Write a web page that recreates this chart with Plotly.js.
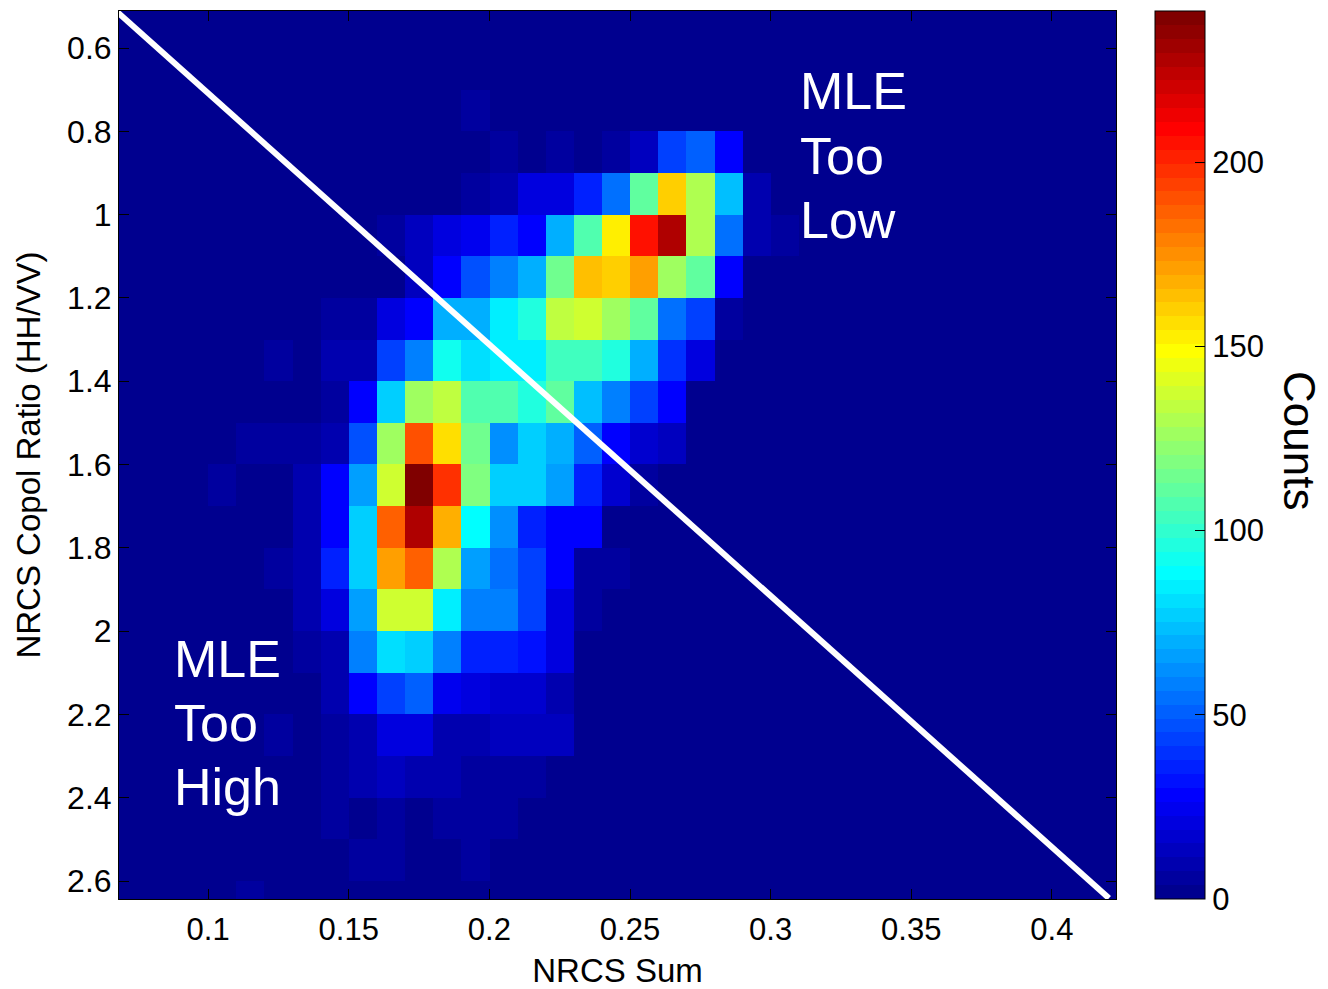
<!DOCTYPE html>
<html>
<head>
<meta charset="utf-8">
<script src="https://cdn.plot.ly/plotly-3.0.1.min.js"></script>
<style>html,body{margin:0;padding:0;background:#fff;}#chart{width:1328px;height:989px;}</style>
</head>
<body>
<div id="chart"></div>
<script>
// Bin centres of the 2-D histogram
const xCenters = [0.095,0.105,0.115,0.125,0.135,0.145,0.155,0.165,0.175,0.185,0.195,0.205,0.215,0.225,0.235,0.245,0.255,0.265,0.275,0.285,0.295,0.305];
const yCenters = [0.55,0.65,0.75,0.85,0.95,1.05,1.15,1.25,1.35,1.45,1.55,1.65,1.75,1.85,1.95,2.05,2.15,2.25,2.35,2.45,2.55,2.65];
// Counts (rows follow yCenters, columns follow xCenters)
const counts = [
  [0,0,0,0,0,0,0,0,0,0,0,0,0,0,0,0,0,0,0,0,0,0],
  [0,0,0,0,0,0,0,0,0,0,0,0,0,0,0,0,0,0,0,0,0,0],
  [0,0,0,0,0,0,0,0,0,0,5,1,0,0,0,0,0,0,0,0,0,0],
  [0,0,0,0,0,0,0,0,0,0,2,4,2,4,2,5,13,42,50,27,1,0],
  [0,0,0,0,0,0,0,0,0,0,7,8,20,20,36,54,110,161,130,75,10,3],
  [0,0,0,0,0,0,2,4,12,22,25,37,30,68,109,151,206,226,130,56,10,4],
  [0,0,0,0,0,2,2,1,13,27,47,60,68,114,163,160,170,126,111,30,1,0],
  [0,0,0,0,3,4,5,20,30,71,70,85,95,132,137,125,111,56,42,4,1,0],
  [0,0,0,4,2,8,10,42,60,91,80,85,85,103,103,97,69,40,19,1,0,0],
  [0,1,1,1,2,4,27,78,125,132,107,106,97,111,72,60,42,27,1,0,0,0],
  [0,0,5,5,4,8,48,126,192,158,114,63,76,68,49,27,17,13,1,0,0,0],
  [2,5,1,1,10,30,67,137,241,196,118,76,76,66,37,18,4,1,0,0,0,0],
  [0,1,1,1,11,30,78,185,226,168,87,63,37,28,29,2,1,0,0,0,0,0],
  [0,0,1,4,9,35,76,173,188,130,66,56,42,30,6,4,1,0,0,0,0,0],
  [0,0,0,1,9,20,66,137,137,83,60,60,42,22,4,2,1,0,0,0,0,0],
  [0,0,0,0,4,10,60,80,76,60,37,35,33,20,1,0,0,0,0,0,0,0],
  [0,1,1,1,2,10,30,42,49,24,22,18,17,9,1,0,0,0,0,0,0,0],
  [0,0,1,6,2,6,10,22,22,11,10,12,12,12,0,0,0,0,0,0,0,0],
  [0,0,0,1,1,6,10,12,10,9,4,6,6,2,0,0,0,0,0,0,0,0],
  [0,0,0,0,0,7,2,5,2,6,5,6,1,0,0,0,0,0,0,0,0,0],
  [0,0,0,0,1,2,6,6,2,2,6,2,0,0,0,0,0,0,0,0,0,0],
  [0,0,6,0,0,0,0,0,0,0,2,0,0,0,0,0,0,0,0,0,0,0]
];
const xTicks = [0.1,0.15,0.2,0.25,0.3,0.35,0.4];
const xTickText = ['0.1','0.15','0.2','0.25','0.3','0.35','0.4'];
const yTicks = [0.6,0.8,1,1.2,1.4,1.6,1.8,2,2.2,2.4,2.6];
const yTickText = ['0.6','0.8','1','1.2','1.4','1.6','1.8','2','2.2','2.4','2.6'];
const cbTicks = [0,50,100,150,200];
// 1:1 reference line (NRCS sum vs copol ratio)
const lineX = [0.0676, 0.4203];
const lineY = [0.513, 2.641];

// MATLAB-style jet(64) as a stepped colorscale
function jet64() {
  const m = 64, n = 16;
  const u = [];
  for (let i = 1; i <= n; i++) u.push(i / n);
  for (let i = 0; i < n - 1; i++) u.push(1);
  for (let i = n; i >= 1; i--) u.push(i / n);
  const r = new Array(m).fill(0), g = new Array(m).fill(0), b = new Array(m).fill(0);
  for (let k = 0; k < u.length; k++) {
    const gi = 8 + k; const ri = gi + n; const bi = gi - n;
    if (gi >= 0 && gi < m) g[gi] = u[k];
    if (ri >= 0 && ri < m) r[ri] = u[k];
    if (bi >= 0 && bi < m) b[bi] = u[k];
  }
  const cs = [];
  for (let i = 0; i < m; i++) {
    const c = 'rgb(' + Math.round(r[i]*255) + ',' + Math.round(g[i]*255) + ',' + Math.round(b[i]*255) + ')';
    cs.push([i / m, c]);
    cs.push([(i + 1) / m, c]);
  }
  return cs;
}
const jetScale = jet64();
const zeroColor = jetScale[0][1];

const font = 'Liberation Sans, Arial, Helvetica, sans-serif';

const heat = {
  type: 'heatmap',
  x: xCenters,
  y: yCenters,
  z: counts,
  zmin: 0,
  zmax: 241,
  colorscale: jetScale,
  hoverinfo: 'x+y+z',
  colorbar: {
    x: 1.0391, xanchor: 'left', xpad: 0,
    y: 0.5, yanchor: 'middle', ypad: 0,
    len: 1.0, lenmode: 'fraction',
    thickness: 50, thicknessmode: 'pixels',
    outlinecolor: '#000', outlinewidth: 1,
    tickmode: 'array', tickvals: cbTicks,
    ticks: 'inside', ticklen: 10, tickcolor: '#000', tickwidth: 1,
    tickfont: {family: font, size: 31, color: '#000'}
  }
};

const diag = {
  type: 'scatter', mode: 'lines',
  x: lineX, y: lineY,
  line: {color: '#ffffff', width: 6},
  hoverinfo: 'skip', showlegend: false
};

function lbl(text, x, y) {
  return {xref: 'paper', yref: 'paper', x: x, y: y, xanchor: 'left', yanchor: 'middle',
          text: text, showarrow: false, font: {family: font, size: 52, color: '#ffffff'}};
}
const H = 888, T = 11, L = 119, W = 997;
function px(xp) { return (xp - L) / W; }
function py(yp) { return 1 - (yp - T) / H; }

const layout = {
  width: 1328, height: 989,
  margin: {l: 119, r: 212, t: 11, b: 90},
  paper_bgcolor: '#ffffff',
  plot_bgcolor: zeroColor,
  showlegend: false,
  xaxis: {
    range: [0.0683, 0.4228],
    tickmode: 'array', tickvals: xTicks, ticktext: xTickText,
    ticks: 'inside', ticklen: 10, tickcolor: '#000',
    showline: true, linecolor: '#000', linewidth: 1, mirror: 'ticks',
    showgrid: false, zeroline: false,
    ticklabelstandoff: 3,
    tickfont: {family: font, size: 31, color: '#000'},
    title: {text: 'NRCS Sum', font: {family: font, size: 33, color: '#000'}, standoff: 19}
  },
  yaxis: {
    range: [2.643, 0.511],
    tickmode: 'array', tickvals: yTicks, ticktext: yTickText,
    ticks: 'inside', ticklen: 10, tickcolor: '#000',
    showline: true, linecolor: '#000', linewidth: 1, mirror: 'ticks',
    showgrid: false, zeroline: false,
    tickfont: {family: font, size: 32, color: '#000'},
    title: {text: 'NRCS Copol Ratio (HH/VV)', font: {family: font, size: 33, color: '#000'}, standoff: 16}
  },
  annotations: [
    lbl('MLE', px(798), py(91)),
    lbl('Too', px(798), py(156)),
    lbl('Low', px(798), py(220)),
    lbl('MLE', px(172), py(659)),
    lbl('Too', px(172), py(723)),
    lbl('High', px(172), py(787)),
    {xref: 'paper', yref: 'paper', x: px(1300), y: py(440), xanchor: 'center', yanchor: 'middle',
     text: 'Counts', textangle: 90, showarrow: false,
     font: {family: font, size: 44, color: '#000'}}
  ]
};

Plotly.newPlot('chart', [heat, diag], layout, {displayModeBar: false, staticPlot: true});
</script>
</body>
</html>
